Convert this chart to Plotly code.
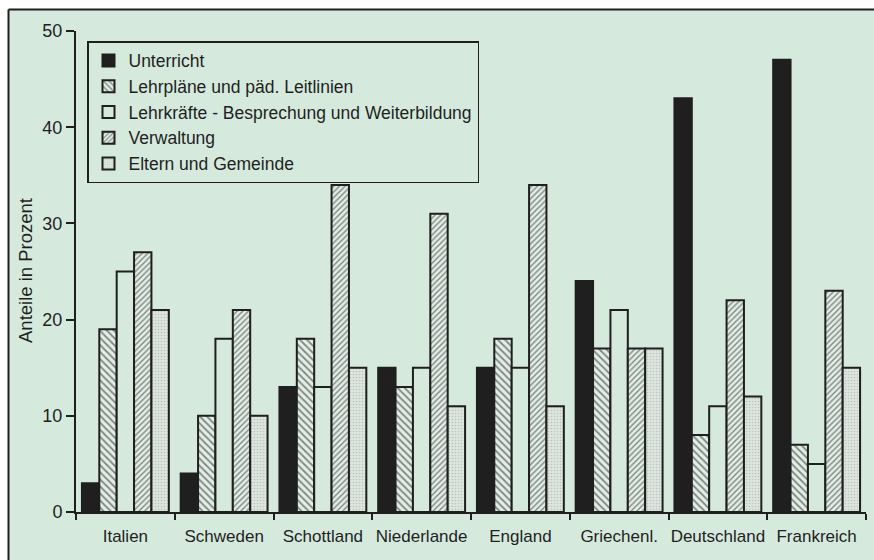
import plotly.graph_objects as go

countries = ["Italien", "Schweden", "Schottland", "Niederlande", "England",
             "Griechenl.", "Deutschland", "Frankreich"]
series_names = ["Unterricht", "Lehrpläne und päd. Leitlinien",
                "Lehrkräfte - Besprechung und Weiterbildung", "Verwaltung",
                "Eltern und Gemeinde"]
unterricht = [3, 4, 13, 15, 15, 24, 43, 47]
lehrplaene = [19, 10, 18, 13, 18, 17, 8, 7]
lehrkraefte = [25, 18, 13, 15, 15, 21, 11, 5]
verwaltung = [27, 21, 34, 31, 34, 17, 22, 23]
eltern = [21, 10, 15, 11, 11, 17, 12, 15]
y_ticks = [0, 10, 20, 30, 40, 50]

BG = "#d5eadd"
DARK = "#1f1f1f"
FONT = "Liberation Sans, Arial, sans-serif"

styles = [
    dict(color=DARK, pattern=dict(shape="")),
    dict(color=BG, pattern=dict(shape="\\", fgcolor=DARK, bgcolor="#e2eee6", size=5, solidity=0.35)),
    dict(color=BG, pattern=dict(shape="")),
    dict(color=BG, pattern=dict(shape="/", fgcolor=DARK, bgcolor="#e2eee6", size=4, solidity=0.35)),
    dict(color="#d3dcd5", pattern=dict(shape=".", fgcolor="#9aa39c", bgcolor="#dde5df", size=3, solidity=0.25)),
]
values = [unterricht, lehrplaene, lehrkraefte, verwaltung, eltern]

fig = go.Figure()
for name, vals, st in zip(series_names, values, styles):
    fig.add_trace(go.Bar(
        x=countries, y=vals, name=name,
        marker=dict(color=st["color"], pattern=st["pattern"],
                    line=dict(color=DARK, width=2)),
    ))

W, H = 874, 560
L, R, T, B = 76, 8, 31, 48
pw, ph = W - L - R, H - T - B

def px_x(p):
    return (p - L) / pw

def px_y(p):
    return (H - B - p) / ph

fig.update_layout(
    width=W, height=H,
    margin=dict(l=L, r=R, t=T, b=B, autoexpand=False),
    paper_bgcolor=BG, plot_bgcolor=BG,
    barmode="group", bargap=0.12, bargroupgap=0,
    font=dict(family=FONT, size=17, color=DARK),
    showlegend=True,
    legend=dict(
        x=px_x(87), y=px_y(41), xanchor="left", yanchor="top",
        bgcolor=BG, bordercolor=DARK, borderwidth=1.5,
        font=dict(family=FONT, size=17.5, color=DARK),
        tracegroupgap=0, itemwidth=30,
    ),
    xaxis=dict(
        type="category", showline=True, linecolor=DARK, linewidth=2,
        ticks="outside", tickson="boundaries", ticklen=6, tickcolor=DARK,
        tickwidth=1.5, showgrid=False, zeroline=False,
        tickfont=dict(family=FONT, size=17, color=DARK),
        tickangle=0, automargin=False,
        ticklabelstandoff=8,
        range=[-0.5, len(countries) - 0.5],
    ),
    yaxis=dict(
        range=[0, 50], tickvals=y_ticks, showline=True, linecolor=DARK,
        linewidth=2, ticks="outside", ticklen=8, tickcolor=DARK, tickwidth=1.5,
        showgrid=False, zeroline=False, automargin=False,
        tickfont=dict(family=FONT, size=18, color=DARK),
    ),
    annotations=[dict(
        text="Anteile in Prozent", textangle=-90, showarrow=False,
        xref="paper", yref="paper", x=px_x(25), y=px_y(271),
        xanchor="center", yanchor="middle",
        font=dict(family=FONT, size=18.5, color=DARK),
    )],
    shapes=[
        dict(type="rect", xref="paper", yref="paper", x0=px_x(-5), x1=px_x(8),
             y0=px_y(570), y1=px_y(-5), fillcolor="white", line=dict(width=0)),
        dict(type="rect", xref="paper", yref="paper", x0=px_x(-5), x1=px_x(880),
             y0=px_y(9), y1=px_y(-5), fillcolor="white", line=dict(width=0)),
        dict(type="line", xref="paper", yref="paper", x0=px_x(8.5), x1=px_x(880),
             y0=px_y(9.5), y1=px_y(9.5), line=dict(color=DARK, width=2)),
        dict(type="line", xref="paper", yref="paper", x0=px_x(8.5), x1=px_x(8.5),
             y0=px_y(570), y1=px_y(9.5), line=dict(color=DARK, width=2)),
    ],
)

fig.write_html("out.html")
